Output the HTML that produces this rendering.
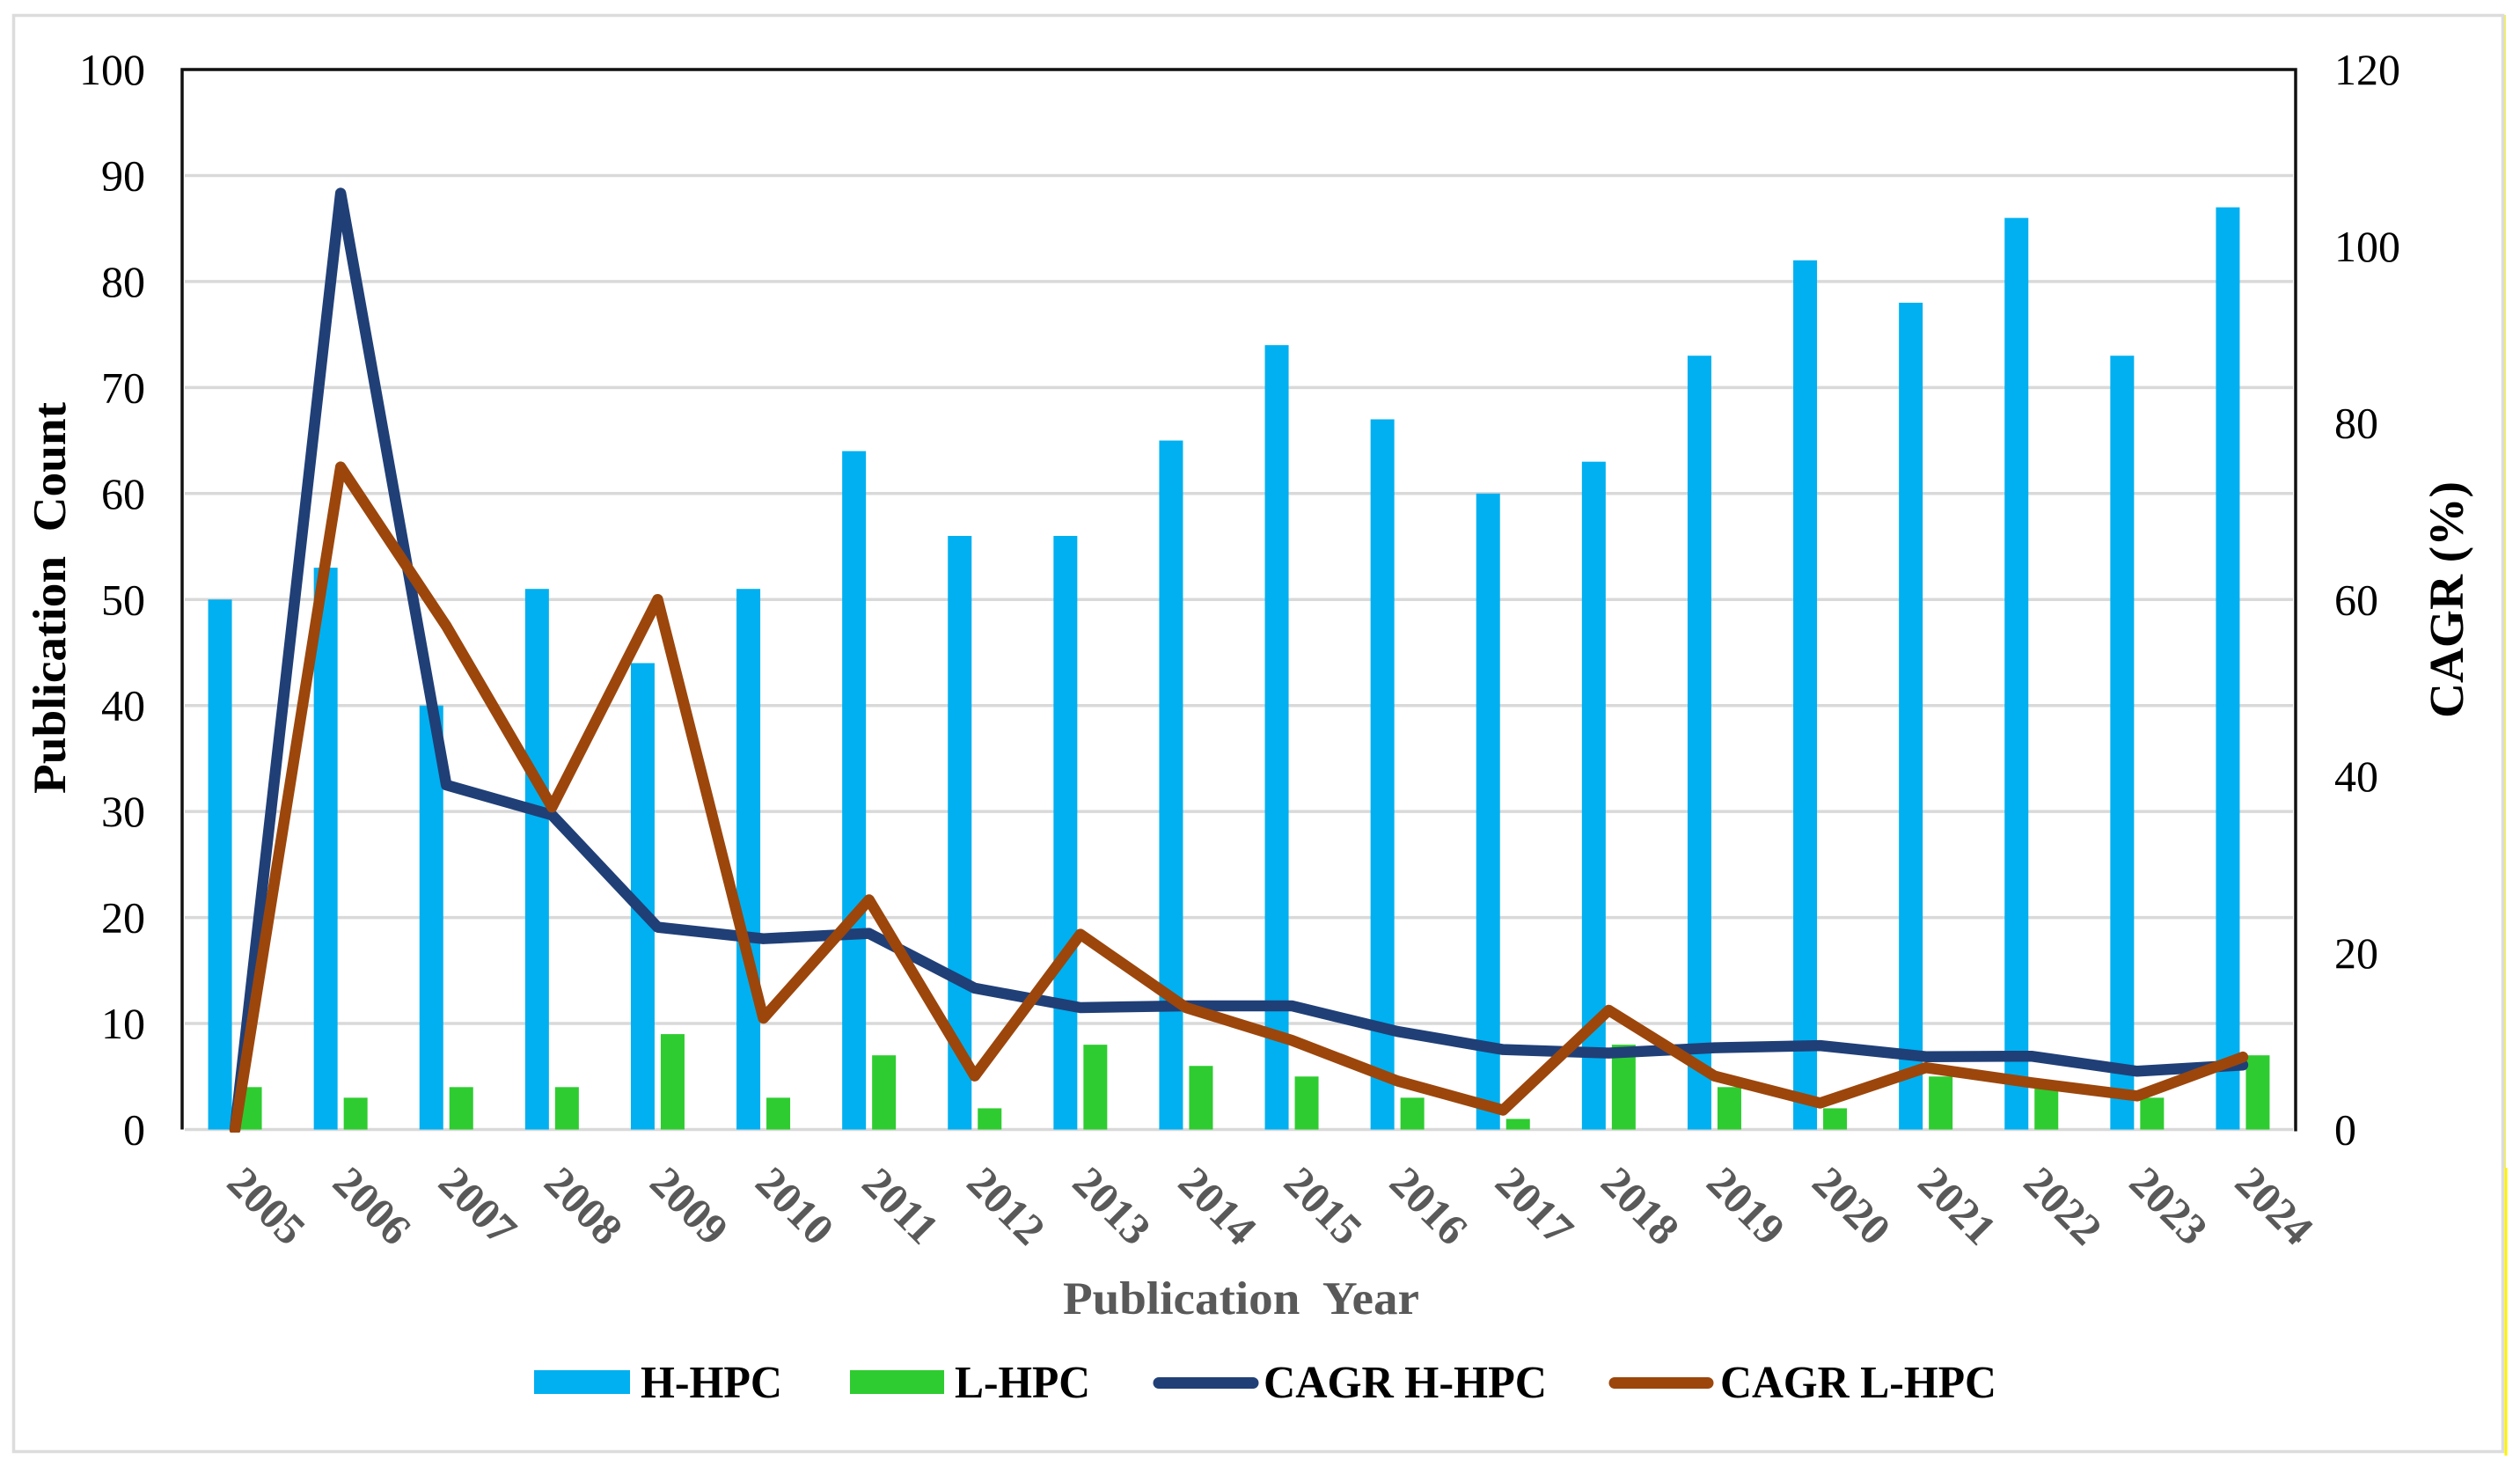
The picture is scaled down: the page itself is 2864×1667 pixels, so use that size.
<!DOCTYPE html>
<html lang="en">
<head>
<meta charset="utf-8">
<title>Publication Count and CAGR by Year</title>
<style>
html,body{margin:0;padding:0;background:#fff;}
svg{display:block;font-family:"Liberation Serif",serif;}
</style>
</head>
<body>
<svg id="chart" xmlns="http://www.w3.org/2000/svg" width="2864" height="1667" viewBox="0 0 2864 1667">
  <rect x="0" y="0" width="2864" height="1667" fill="#ffffff"/>
  <line x1="2847" y1="17" x2="2847" y2="1327" stroke="#f4ee60" stroke-width="2"/>
  <line x1="2848" y1="1327" x2="2848" y2="1654" stroke="#fff200" stroke-width="3"/>
  <rect x="15.5" y="17.5" width="2829" height="1632" fill="none" stroke="#dcdcdc" stroke-width="3.5"/>
  <g id="grid"></g>
  <g id="bars"></g>
  <g id="axes"></g>
  <clipPath id="line-clip"><rect x="0" y="0" width="2864" height="1287"/></clipPath>
  <g id="lines" clip-path="url(#line-clip)"></g>
  <g id="left-ticks"></g>
  <g id="right-ticks"></g>
  <g id="x-ticks"></g>
  <text transform="translate(74,902) rotate(-90)" font-size="53" font-weight="bold" fill="#000" textLength="445" lengthAdjust="spacingAndGlyphs" xml:space="preserve">Publication  Count</text>
  <text transform="translate(2799,816) rotate(-90)" font-size="55" font-weight="bold" fill="#000" textLength="269" lengthAdjust="spacingAndGlyphs">CAGR (%)</text>
  <text x="1208" y="1493" font-size="53" font-weight="bold" fill="#595959" textLength="405" lengthAdjust="spacingAndGlyphs" xml:space="preserve">Publication  Year</text>
  <g>
    <rect x="607" y="1557" width="109" height="27" fill="#00b0f0"/>
    <text x="728" y="1588" font-size="52" font-weight="bold" fill="#000" textLength="161" lengthAdjust="spacingAndGlyphs">H-HPC</text>
    <rect x="966" y="1557" width="107" height="27" fill="#2ecc30"/>
    <text x="1085" y="1588" font-size="52" font-weight="bold" fill="#000" textLength="154" lengthAdjust="spacingAndGlyphs">L-HPC</text>
    <line x1="1317" y1="1571.5" x2="1424" y2="1571.5" stroke="#203f77" stroke-width="13" stroke-linecap="round"/>
    <text x="1436" y="1588" font-size="52" font-weight="bold" fill="#000" textLength="322" lengthAdjust="spacingAndGlyphs">CAGR H-HPC</text>
    <line x1="1835" y1="1571.5" x2="1941" y2="1571.5" stroke="#9c460c" stroke-width="13" stroke-linecap="round"/>
    <text x="1955" y="1588" font-size="52" font-weight="bold" fill="#000" textLength="314" lengthAdjust="spacingAndGlyphs">CAGR L-HPC</text>
  </g>
</svg>
<script>
const years = [2005,2006,2007,2008,2009,2010,2011,2012,2013,2014,2015,2016,2017,2018,2019,2020,2021,2022,2023,2024];
const hHpc = [50,53,40,51,44,51,64,56,56,65,74,67,60,63,73,82,78,86,73,87];
const lHpc = [4,3,4,4,9,3,7,2,8,6,5,3,1,8,4,2,5,4,3,7];
const cagrH = [0,106,39,35.6,22.9,21.6,22.2,16,13.8,14,14,11.1,9.05,8.65,9.25,9.5,8.25,8.3,6.6,7.3];
const cagrL = [0,75,57,36.5,60,12.6,26,6.06,22.1,13.8,10.1,5.5,2.2,13.5,6.06,3,7,5.3,3.8,8.2];
const leftTicks = [0,10,20,30,40,50,60,70,80,90,100];
const rightTicks = [0,20,40,60,80,100,120];

const NS = 'http://www.w3.org/2000/svg';
const plotLeft = 207, plotRight = 2609, plotTop = 79, plotBottom = 1283.5;
const leftMax = 100, rightMax = 120;
const xCenter = i => plotLeft + (i + 0.5) * (plotRight - plotLeft) / years.length;
const yLeft = v => plotBottom - v / leftMax * (plotBottom - plotTop);
const yRight = v => plotBottom - v / rightMax * (plotBottom - plotTop);
function make(tag, attrs, parentId) {
  const el = document.createElementNS(NS, tag);
  for (const k in attrs) el.setAttribute(k, attrs[k]);
  document.getElementById(parentId).appendChild(el);
  return el;
}

leftTicks.forEach(t => {
  const grid = make('line', {x1: plotLeft + 3, x2: plotRight - 3, y1: yLeft(t), y2: yLeft(t), stroke: '#d9d9d9', 'stroke-width': 3.5}, 'grid');
  
  
  const label = make('text', {x: 165, y: yLeft(t) + 17, 'text-anchor': 'end', 'font-size': 50, fill: '#000'}, 'left-ticks');
  
  
  label.textContent = t;
});

rightTicks.forEach(t => {
  const label = make('text', {x: 2653, y: yRight(t) + 17, 'font-size': 50, fill: '#000'}, 'right-ticks');
  
  
  label.textContent = t;
});

const barWidth = 27, barGap = 7;
years.forEach((yr, i) => {
  const cx = xCenter(i);
  const hBar = make('rect', {x: cx - barGap / 2 - barWidth, y: yLeft(hHpc[i]), width: barWidth, height: plotBottom - yLeft(hHpc[i]), fill: '#00b0f0'}, 'bars');
  
  
  const lBar = make('rect', {x: cx + barGap / 2, y: yLeft(lHpc[i]), width: barWidth, height: plotBottom - yLeft(lHpc[i]), fill: '#2ecc30'}, 'bars');
  
  
  const tick = make('text', {transform: 'translate(' + (cx + 36) + ',1370) rotate(45)', 'text-anchor': 'middle', 'dominant-baseline': 'central', 'font-size': 50, 'font-weight': 'bold', fill: '#595959'}, 'x-ticks');
  
  
  tick.textContent = yr;
});

const pointsOf = vals => vals.map((v, i) => xCenter(i) + ',' + yRight(v)).join(' ');
const lineStyle = {fill: 'none', 'stroke-width': 12.5, 'stroke-linecap': 'round', 'stroke-linejoin': 'round'};
const hLine = make('polyline', Object.assign({points: pointsOf(cagrH), stroke: '#203f77'}, lineStyle), 'lines');


const lLine = make('polyline', Object.assign({points: pointsOf(cagrL), stroke: '#9c460c'}, lineStyle), 'lines');



const border = make('path', {d: 'M' + plotLeft + ' ' + plotBottom + 'V' + plotTop + 'H' + plotRight + 'V' + (plotBottom + 2), fill: 'none', stroke: '#111', 'stroke-width': 3.5}, 'axes');


</script>
</body>
</html>
